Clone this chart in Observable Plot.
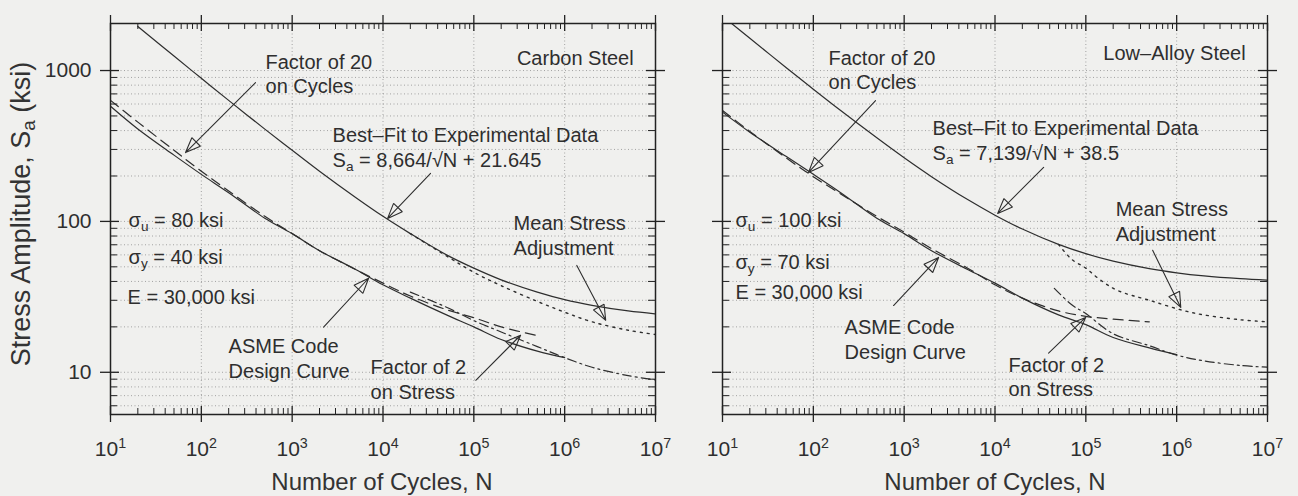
<!DOCTYPE html>
<html><head><meta charset="utf-8">
<script src="https://cdn.jsdelivr.net/npm/d3@7"></script>
<script src="https://cdn.jsdelivr.net/npm/@observablehq/plot@0.6"></script>
<style>
html,body{margin:0;padding:0;background:#f0f0ee;}
#fig{position:relative;width:1298px;height:496px;overflow:hidden;font-family:"Liberation Sans",Arial,sans-serif;color:#333;}
.panel{position:absolute;top:0;}
.xtitle{position:absolute;top:470px;font-size:24px;line-height:24px;white-space:nowrap;transform:translateX(-50%);}
.ytitle{position:absolute;left:21px;top:214px;font-size:27px;line-height:28px;white-space:nowrap;transform:translate(-50%,-50%) rotate(-90deg);}
sub{font-size:70%;vertical-align:-0.25em;line-height:0;}
</style></head>
<body>
<div id="fig">
  <div id="left" class="panel" style="left:0px"></div>
  <div id="right" class="panel" style="left:660px"></div>
  <div class="ytitle">Stress Amplitude, S<sub>a</sub> (ksi)</div>
  <div class="xtitle" style="left:382px">Number of Cycles, N</div>
  <div class="xtitle" style="left:995px">Number of Cycles, N</div>
</div>
<script>
// ---------- axes ----------
const xTicks = [1e1, 1e2, 1e3, 1e4, 1e5, 1e6, 1e7];
const xTickLabels = ["10^{1}", "10^{2}", "10^{3}", "10^{4}", "10^{5}", "10^{6}", "10^{7}"];
const xMinor = [];
for (const d of [1e1, 1e2, 1e3, 1e4, 1e5, 1e6]) for (let k = 2; k <= 9; k++) xMinor.push(k * d);
const xGrid = [1e2, 1e3, 1e4, 1e5, 1e6];
const yTicks = [10, 100, 1000];
const yTickLabels = ["10", "100", "1000"];
const yMinor = [6, 7, 8, 9, 20, 30, 40, 50, 60, 70, 80, 90, 200, 300, 400, 500, 600, 700, 800, 900];
const yGrid = [6, 7, 8, 9, 10, 20, 30, 40, 50, 60, 70, 80, 90, 100, 200, 300, 400, 500, 600, 700, 800, 900, 1000];

// ---------- Carbon steel ----------
const csBestN = [20, 50, 100, 200, 500, 1e3, 2e3, 5e3, 1e4, 2e4, 5e4, 1e5, 2e5, 5e5, 1e6, 2e6, 5e6, 1e7];
const csBestS = [1959, 1247, 888, 634, 409, 296, 215, 144, 108, 83, 60, 49, 41, 34, 30.3, 27.8, 25.5, 24.4];
const csMeanN = [2e4, 5e4, 1e5, 2e5, 5e5, 1e6, 2e6, 5e6, 1e7];
const csMeanS = [83, 59, 46, 37.5, 29.5, 25, 21.6, 19, 17.8];
const csF20N = [10, 20, 50, 100, 200, 500, 1e3, 2e3, 5e3, 1e4, 2e4, 5e4, 1e5, 2e5, 5e5];
const csF20S = [634, 455, 296, 215, 159, 108, 83, 64, 48, 39, 32, 26, 23, 20, 17.5];
const csF2N = [2e4, 5e4, 1e5, 2e5, 5e5, 1e6, 2e6, 5e6, 1e7];
const csF2S = [34, 27, 22, 18.5, 14.8, 12.5, 10.8, 9.5, 8.9];
const csDesignN = [10, 20, 50, 100, 200, 500, 1e3, 2e3, 5e3, 1e4, 2e4, 5e4, 1e5, 2e5, 5e5, 1e6];
const csDesignS = [580, 410, 275, 205, 155, 105, 83, 64, 48, 38, 31, 24, 20, 16.5, 13.8, 12.5];

const csNoteText = ["Factor of 20", "on Cycles", "Best\u2013Fit to Experimental Data", "S_{a} = 8,664/\u221AN + 21.645",
  "Mean Stress", "Adjustment", "\u03C3_{u} = 80 ksi", "\u03C3_{y} = 40 ksi", "E = 30,000 ksi",
  "ASME Code", "Design Curve", "Factor of 2", "on Stress"];
const csNoteN = [509, 509, 2786, 2786, 2.74e5, 2.74e5, 15.8, 15.8, 15.4, 199.5, 199.5, 7300, 7300];
const csNoteS = [1130, 783, 371, 253, 96.8, 66.2, 101, 57.7, 31.3, 14.9, 10.1, 10.8, 7.36];
const csTitle = "Carbon Steel";
const csTitleN = 5.75e6, csTitleS = 1200;
const csArrowN1 = [395, 33400, 1.36e6, 2218, 1.05e5];
const csArrowS1 = [832, 208, 51.1, 19.9, 8.85];
const csArrowN2 = [67, 11240, 2.83e6, 6940, 3.27e5];
const csArrowS2 = [286, 104.7, 22.1, 42, 17.6];

// ---------- Low-alloy steel ----------
const laBestN = [12, 20, 50, 100, 200, 500, 1e3, 2e3, 5e3, 1e4, 2e4, 5e4, 1e5, 2e5, 5e5, 1e6, 2e6, 5e6, 1e7];
const laBestS = [2099, 1635, 1048, 752, 543, 358, 264, 198, 139.5, 110, 89, 70.4, 61.1, 54.5, 48.6, 45.6, 43.5, 41.7, 40.8];
const laMeanN = [5e4, 7e4, 1e5, 1.4e5, 2.2e5, 5e5, 1.5e6, 5e6, 1e7];
const laMeanS = [70.4, 56, 49, 41.5, 35, 30, 24.8, 22.3, 21.6];
const laF20N = [10, 20, 50, 100, 200, 500, 1e3, 2e3, 5e3, 1e4, 2e4, 5e4, 1e5, 2e5, 5e5];
const laF20S = [543, 395, 264, 198, 152, 108, 85, 66, 49, 38, 31, 25.5, 23.5, 22.5, 21.6];
const laF2N = [4.5e4, 7e4, 1e5, 2e5, 5e5, 1e6, 2e6, 5e6, 1e7];
const laF2S = [36, 28, 24.5, 18, 15, 13, 11.9, 11.1, 10.8];
const laDesignN = [10, 20, 50, 100, 200, 500, 1e3, 2e3, 5e3, 1e4, 2e4, 5e4, 1e5, 2e5, 5e5, 1e6];
const laDesignS = [530, 390, 270, 205, 155, 105, 83, 64, 48, 39, 31, 24, 20.7, 17, 14.5, 13.1];

const laNoteText = ["Factor of 20", "on Cycles", "Best\u2013Fit to Experimental Data", "S_{a} = 7,139/\u221AN + 38.5",
  "Mean Stress", "Adjustment", "\u03C3_{u} = 100 ksi", "\u03C3_{y} = 70 ksi", "E = 30,000 ksi",
  "ASME Code", "Design Curve", "Factor of 2", "on Stress"];
const laNoteN = [147, 147, 2056, 2056, 2.13e5, 2.13e5, 13.9, 13.9, 13.9, 221, 221, 14100, 14100];
const laNoteS = [1200, 832, 413, 282, 120, 82, 101, 53.5, 33.9, 19.9, 13.6, 11.1, 7.71];
const laTitle = "Low\u2013Alloy Steel";
const laTitleN = 5.75e6, laTitleS = 1294;
const laArrowN1 = [484, 34300, 5.44e5, 764, 38900];
const laArrowS1 = [632, 228, 64.3, 27.7, 13.4];
const laArrowN2 = [88.5, 10700, 1.11e6, 2393, 99500];
const laArrowS2 = [211, 113, 26.9, 57.7, 23.1];

// ---------- helpers ----------
const INK = "#2e2e2e";
const zip = (N, S) => N.map((n, i) => ({N: n, S: S[i]}));
const notes = (T, N, S) => T.map((t, i) => ({t, N: N[i], S: S[i]}));
const arrows = (N1, S1, N2, S2) => N1.map((n, i) => ({N1: n, S1: S1[i], N2: N2[i], S2: S2[i]}));

function richify(root) {
  const NS = "http://www.w3.org/2000/svg";
  root.querySelectorAll("text").forEach(t => {
    const s = t.textContent;
    if (!/[_^]\{/.test(s)) return;
    while (t.firstChild) t.removeChild(t.firstChild);
    const re = /([_^])\{([^}]*)\}/g;
    let last = 0, m;
    const add = (txt, shift) => {
      const ts = document.createElementNS(NS, "tspan");
      ts.textContent = txt;
      if (shift) { ts.setAttribute("baseline-shift", shift); ts.setAttribute("font-size", "68%"); }
      t.appendChild(ts);
    };
    while ((m = re.exec(s))) {
      if (m.index > last) add(s.slice(last, m.index));
      add(m[2], m[1] === "_" ? "-0.3em" : "0.55em");
      last = re.lastIndex;
    }
    if (last < s.length) add(s.slice(last));
  });
}

function panel(el, cfg) {
  const height = 496, mt = 23, mb = 82;
  const H = height - mt - mb;
  const W = cfg.width - cfg.ml - cfg.mr;
  const lineOpt = {x: "N", y: "S", stroke: INK, strokeWidth: 1.2, curve: "catmull-rom", clip: true};
  const marks = [
    Plot.ruleY(yGrid, {y: d => d, stroke: "#9a9a9a", strokeWidth: 0.9, strokeDasharray: "1,2.5"}),
    Plot.ruleX(xGrid, {x: d => d, stroke: "#9a9a9a", strokeWidth: 0.9, strokeDasharray: "1,2.5"}),
    Plot.line(zip(cfg.bestN, cfg.bestS), {...lineOpt}),
    Plot.line(zip(cfg.meanN, cfg.meanS), {...lineOpt, strokeDasharray: "2,5", strokeWidth: 1.4}),
    Plot.line(zip(cfg.f20N, cfg.f20S), {...lineOpt, strokeDasharray: "10,6"}),
    Plot.line(zip(cfg.f2N, cfg.f2S), {...lineOpt, strokeDasharray: "9,4,2,4"}),
    Plot.line(zip(cfg.designN, cfg.designS), {...lineOpt}),
    Plot.frame({stroke: "#222", strokeWidth: 1.5}),
    // inward minor ticks
    Plot.ruleX(xMinor, {x: d => d, insetTop: H - 6, stroke: "#222"}),
    Plot.ruleX(xMinor, {x: d => d, insetBottom: H - 6, stroke: "#222"}),
    Plot.ruleY(yMinor, {y: d => d, insetRight: W - 7, stroke: "#222"}),
    Plot.ruleY(yMinor, {y: d => d, insetLeft: W - 7, stroke: "#222"}),
    // crossing major ticks
    Plot.ruleX(xTicks, {x: d => d, insetTop: H - 8, insetBottom: -8, stroke: "#222", strokeWidth: 1.3}),
    Plot.ruleX(xTicks, {x: d => d, insetBottom: H - 8, insetTop: -8, stroke: "#222", strokeWidth: 1.3}),
    Plot.ruleY(yTicks, {y: d => d, insetRight: W - 9, insetLeft: -10, stroke: "#222", strokeWidth: 1.3}),
    Plot.ruleY(yTicks, {y: d => d, insetLeft: W - 9, insetRight: -10, stroke: "#222", strokeWidth: 1.3}),
    Plot.axisX({anchor: "bottom", ticks: xTicks, tickFormat: d => xTickLabels[xTicks.indexOf(d)],
      tickSize: 0, tickPadding: 27, fontSize: 21, label: null, fill: INK}),
    Plot.text(notes(cfg.noteText, cfg.noteN, cfg.noteS), {x: "N", y: "S", text: "t", textAnchor: "start", fontSize: 20, fill: INK}),
    Plot.text([{t: cfg.title, N: cfg.titleN, S: cfg.titleS}], {x: "N", y: "S", text: "t", textAnchor: "end", fontSize: 20, fill: INK}),
    Plot.arrow(arrows(cfg.aN1, cfg.aS1, cfg.aN2, cfg.aS2), {x1: "N1", y1: "S1", x2: "N2", y2: "S2",
      stroke: INK, strokeWidth: 1.1, headLength: 22, headAngle: 44})
  ];
  if (cfg.yLabels) marks.push(Plot.axisY({anchor: "left", ticks: yTicks, tickFormat: d => yTickLabels[yTicks.indexOf(d)],
    tickSize: 0, tickPadding: 19, fontSize: 21, label: null, fill: INK}));
  const svg = Plot.plot({
    width: cfg.width, height,
    marginLeft: cfg.ml, marginRight: cfg.mr, marginTop: mt, marginBottom: mb,
    x: {type: "log", domain: [10, 1e7], axis: null},
    y: {type: "log", domain: [5.25, 2050], axis: null},
    style: {background: "transparent", fontFamily: "Liberation Sans, Arial, sans-serif", color: INK, overflow: "visible"},
    marks
  });
  svg.querySelectorAll('g[aria-label="arrow"] path').forEach(p => {
    p.setAttribute("d", p.getAttribute("d") + "Z");
    p.setAttribute("stroke-linejoin", "miter");
  });
  richify(svg);
  el.appendChild(svg);
}

panel(document.getElementById("left"), {
  width: 660, ml: 110, mr: 5, yLabels: true,
  bestN: csBestN, bestS: csBestS, meanN: csMeanN, meanS: csMeanS,
  f20N: csF20N, f20S: csF20S, f2N: csF2N, f2S: csF2S, designN: csDesignN, designS: csDesignS,
  noteText: csNoteText, noteN: csNoteN, noteS: csNoteS,
  title: csTitle, titleN: csTitleN, titleS: csTitleS,
  aN1: csArrowN1, aS1: csArrowS1, aN2: csArrowN2, aS2: csArrowS2
});
panel(document.getElementById("right"), {
  width: 638, ml: 62, mr: 31, yLabels: false,
  bestN: laBestN, bestS: laBestS, meanN: laMeanN, meanS: laMeanS,
  f20N: laF20N, f20S: laF20S, f2N: laF2N, f2S: laF2S, designN: laDesignN, designS: laDesignS,
  noteText: laNoteText, noteN: laNoteN, noteS: laNoteS,
  title: laTitle, titleN: laTitleN, titleS: laTitleS,
  aN1: laArrowN1, aS1: laArrowS1, aN2: laArrowN2, aS2: laArrowS2
});
</script>
</body></html>
